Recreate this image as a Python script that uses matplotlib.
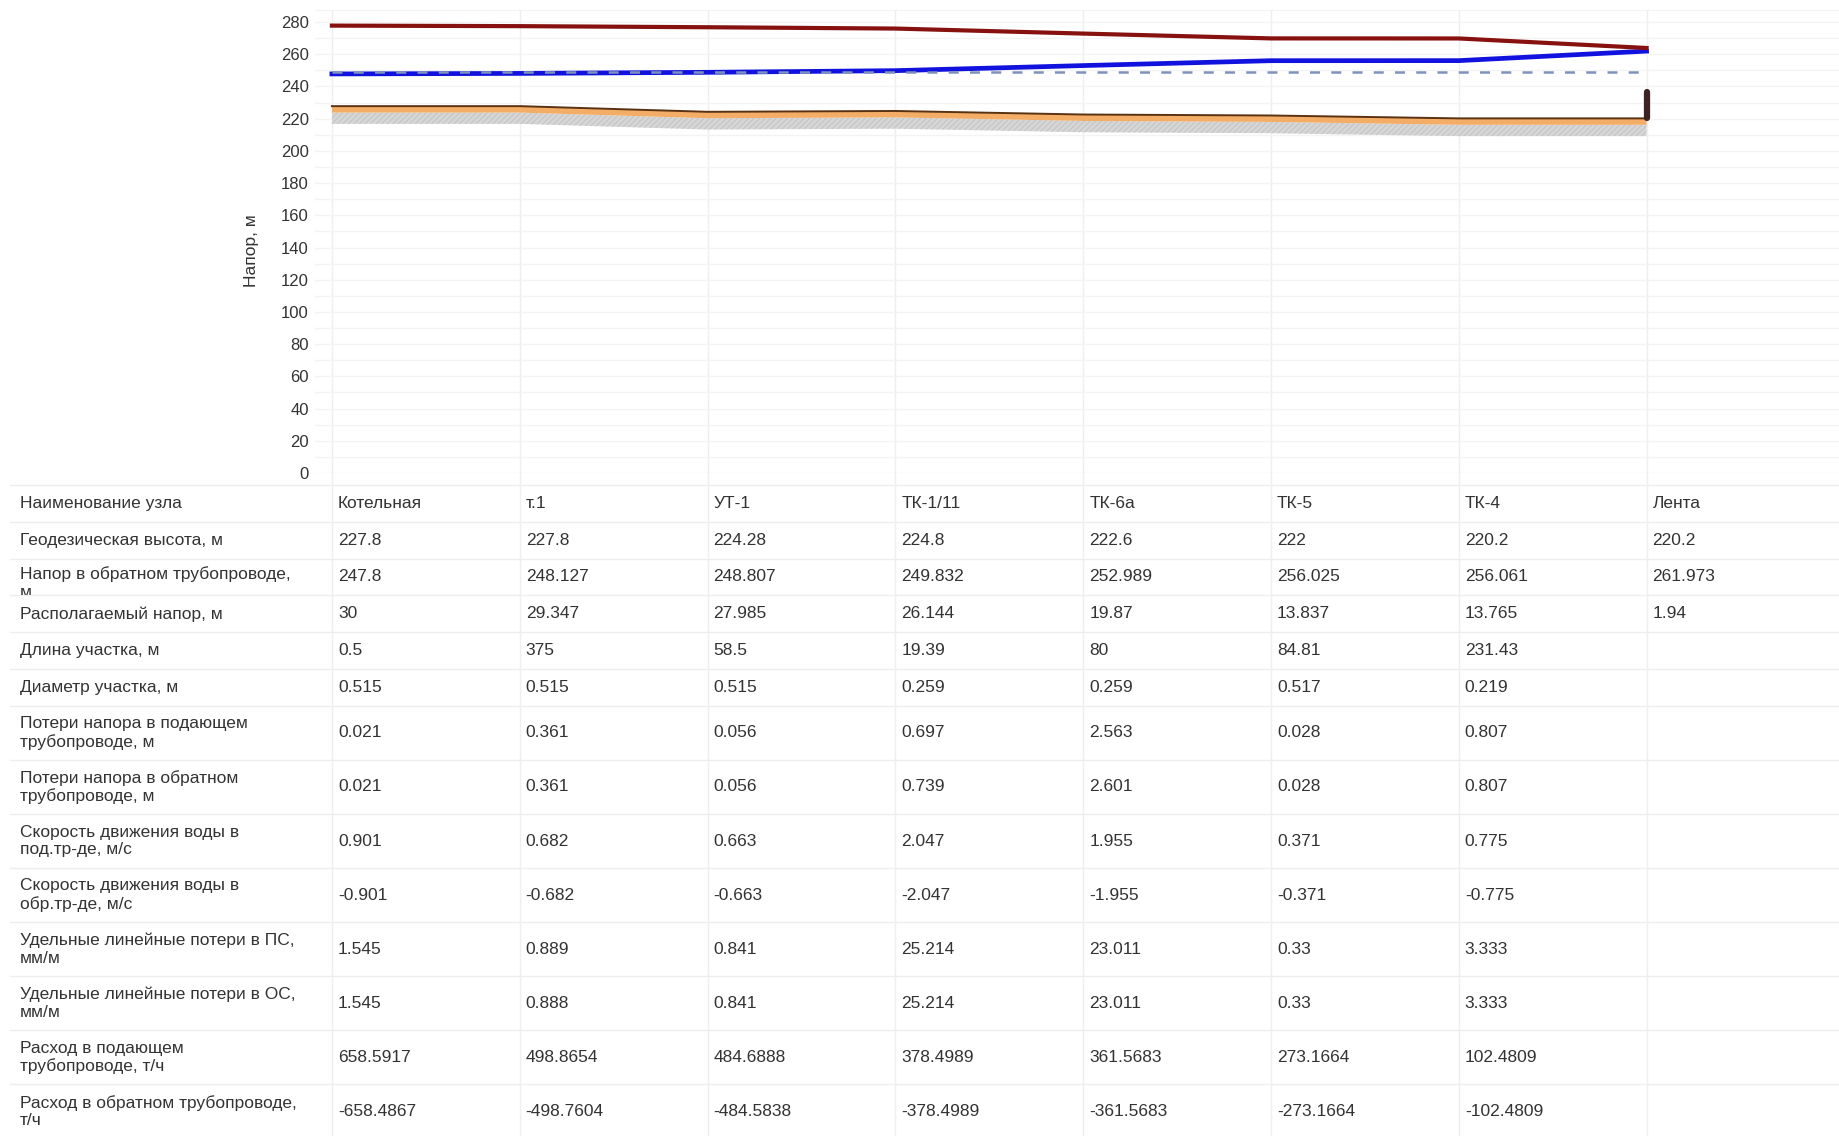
import matplotlib
matplotlib.use("Agg")
import matplotlib.pyplot as plt
import numpy as np
from matplotlib.lines import Line2D
from matplotlib.transforms import Bbox, TransformedBbox

plt.rcParams['font.family'] = ['Liberation Sans', 'DejaVu Sans']
plt.rcParams['hatch.linewidth'] = 0.6

# ---- network nodes and results ----
node_names = ["Котельная", "т.1", "УТ-1", "ТК-1/11", "ТК-6а", "ТК-5", "ТК-4", "Лента"]
geodesic = [227.8, 227.8, 224.28, 224.8, 222.6, 222, 220.2, 220.2]
return_head = [247.8, 248.127, 248.807, 249.832, 252.989, 256.025, 256.061, 261.973]
available_head = [30, 29.347, 27.985, 26.144, 19.87, 13.837, 13.765, 1.94]
section_length = [0.5, 375, 58.5, 19.39, 80, 84.81, 231.43]
section_diameter = [0.515, 0.515, 0.515, 0.259, 0.259, 0.517, 0.219]
loss_supply = [0.021, 0.361, 0.056, 0.697, 2.563, 0.028, 0.807]
loss_return = [0.021, 0.361, 0.056, 0.739, 2.601, 0.028, 0.807]
velocity_supply = [0.901, 0.682, 0.663, 2.047, 1.955, 0.371, 0.775]
velocity_return = [-0.901, -0.682, -0.663, -2.047, -1.955, -0.371, -0.775]
spec_loss_supply = [1.545, 0.889, 0.841, 25.214, 23.011, 0.33, 3.333]
spec_loss_return = [1.545, 0.888, 0.841, 25.214, 23.011, 0.33, 3.333]
flow_supply = [658.5917, 498.8654, 484.6888, 378.4989, 361.5683, 273.1664, 102.4809]
flow_return = [-658.4867, -498.7604, -484.5838, -378.4989, -361.5683, -273.1664, -102.4809]

static_head = 249.3      # static head level, m
pipe_band = 4.0          # pipe trench band below ground, m
soil_band = 11.0         # soil layer drawn under the trench, m
consumer_top = 236.5     # top of the consumer building at the last node, m

row_labels = [
    "Наименование узла",
    "Геодезическая высота, м",
    "Напор в обратном трубопроводе,\nм",
    "Располагаемый напор, м",
    "Длина участка, м",
    "Диаметр участка, м",
    "Потери напора в подающем\nтрубопроводе, м",
    "Потери напора в обратном\nтрубопроводе, м",
    "Скорость движения воды в\nпод.тр-де, м/с",
    "Скорость движения воды в\nобр.тр-де, м/с",
    "Удельные линейные потери в ПС,\nмм/м",
    "Удельные линейные потери в ОС,\nмм/м",
    "Расход в подающем\nтрубопроводе, т/ч",
    "Расход в обратном трубопроводе,\nт/ч",
]
row_values = [node_names, geodesic, return_head, available_head, section_length,
              section_diameter, loss_supply, loss_return, velocity_supply,
              velocity_return, spec_loss_supply, spec_loss_return,
              flow_supply, flow_return]

supply_head = np.array(return_head) + np.array(available_head)
ground = np.array(geodesic, dtype=float)
x = np.arange(len(node_names))

# ---- figure layout (pixels) ----
W, H = 1840, 1136
fig = plt.figure(figsize=(W / 100, H / 100), dpi=100)
fig.patch.set_facecolor("white")
ax_l, ax_r, ax_t, ax_b = 315, 1840, 10, 473
ax = fig.add_axes([ax_l / W, 1 - ax_b / H, (ax_r - ax_l) / W, (ax_b - ax_t) / H])
ax.set_xlim(-0.09, 8.03)
ax.set_ylim(0, 287.5)

GRID = "#f3f3f3"
TXT = "#333333"

# ground profile: soil, trench band, ground line
ax.fill_between(x, ground - soil_band, ground - pipe_band, facecolor="#d6d6d6",
                edgecolor="#bfbfbf", hatch="//////", linewidth=0, zorder=2)
ax.fill_between(x, ground - pipe_band, ground, facecolor="#f3ad66",
                linewidth=0, zorder=2)
ax.plot(x, ground, color="#5a3212", lw=1.4, zorder=3)

# consumer building at the end node
ax.vlines(x[-1], ground[-1], consumer_top, color="#3b2323", lw=4.5,
          capstyle="round", zorder=4)

# return / static / supply heads
ax.plot(x, return_head, color="#1212de", lw=3.4, zorder=4)
ax.plot([x[0], x[-1]], [static_head, static_head], color="#7f93ba", lw=1.8,
        dashes=(4.0, 4.5), zorder=5)
ax.plot(x, supply_head, color="#86110f", lw=3.0, zorder=4)

# axes styling
ax.set_yticks(np.arange(0, 281, 20))
ax.set_yticks(np.arange(0, 281, 10), minor=True)
ax.set_xticks(x)
ax.set_xticklabels([])
ax.tick_params(axis="both", which="both", length=0)
ax.tick_params(axis="y", labelsize=12, labelcolor=TXT, pad=4.5)
ax.grid(axis="y", which="both", color=GRID, lw=1.0, zorder=0)
ax.grid(axis="x", which="major", color="#efefef", lw=1.0, zorder=0)
for side in ("left", "right", "bottom"):
    ax.spines[side].set_visible(False)
ax.spines["top"].set_color(GRID)
ax.set_axisbelow(True)
ax.set_ylabel("Напор, м", fontsize=12.5, color=TXT)
ax.yaxis.set_label_coords(-0.037, 0.48)

# ---- data table below the chart ----
def fx(px):
    return px / W

def fy(py):
    return 1 - py / H

node_px = [ax.transData.transform((xi, 0))[0] for xi in x]

row_heights = [36.8] * 6 + [54.1] * 8
table_top = 485.0
bounds = [table_top]
for h in row_heights:
    bounds.append(bounds[-1] + h)

for b in bounds:
    fig.add_artist(Line2D([fx(10), fx(W)], [fy(b), fy(b)], color="#eeeeee", lw=1.0))
for px in node_px:
    fig.add_artist(Line2D([fx(px), fx(px)], [fy(ax_b), fy(H)], color="#efefef", lw=1.0))

FS = 12.5
for r, (label, vals) in enumerate(zip(row_labels, row_values)):
    top, bot = bounds[r], bounds[r + 1]
    mid = (top + bot) / 2
    if r == 2:
        # label too long for the row height: wraps and gets cut by the cell
        t = fig.text(fx(20), fy(top + 8), label, fontsize=FS, color=TXT,
                     ha="left", va="top", linespacing=1.22)
        clip = TransformedBbox(Bbox([[fx(0), fy(bot)], [fx(node_px[0]), fy(top)]]),
                               fig.transFigure)
        t.set_clip_box(clip)
        t.set_clip_on(True)
    else:
        fig.text(fx(20), fy(mid), label, fontsize=FS, color=TXT,
                 ha="left", va="center", linespacing=1.22)
    for i, v in enumerate(vals):
        s = v if isinstance(v, str) else ("%.10g" % v)
        fig.text(fx(node_px[i] + 6), fy(mid), s, fontsize=FS, color=TXT,
                 ha="left", va="center")

fig.savefig("out.png", dpi=100, facecolor="white")
